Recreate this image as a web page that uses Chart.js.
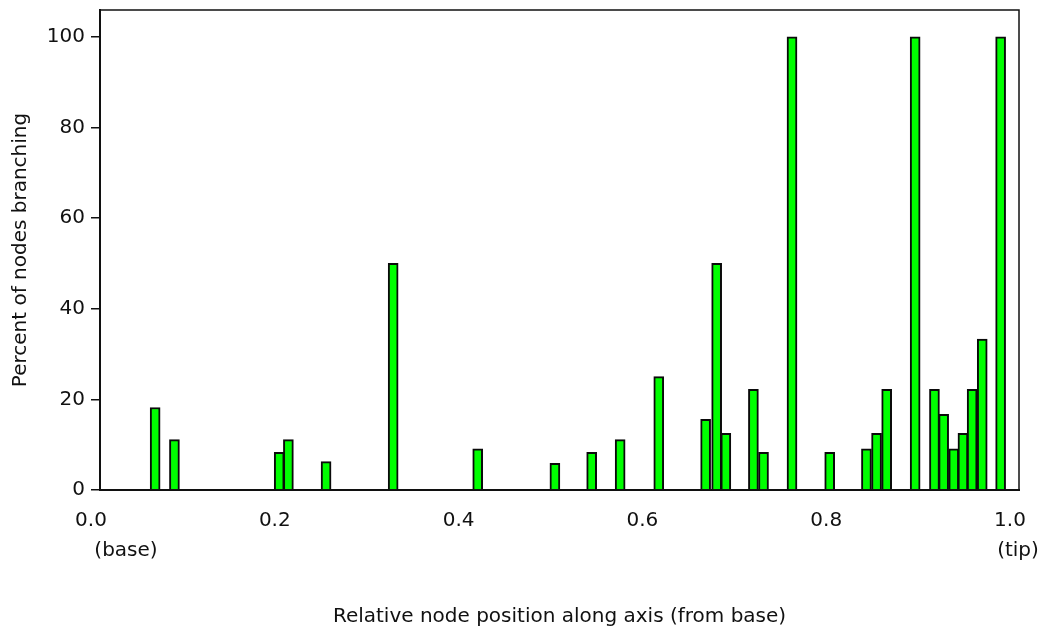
<!DOCTYPE html>
<html>
<head>
<meta charset="utf-8">
<title>Percent of nodes branching</title>
<script src="https://cdn.jsdelivr.net/npm/chart.js@4.4.1/dist/chart.umd.min.js"></script>
<style>
  html, body { margin: 0; padding: 0; background: #fff; }
</style>
</head>
<body>
<canvas id="branchChart" width="1043" height="634"></canvas>
<script>
/* ===== Data ===== */
const positions = [
  0.060, 0.081, 0.195, 0.205, 0.246, 0.319, 0.411, 0.495, 0.535, 0.566,
  0.608, 0.659, 0.671, 0.681, 0.711, 0.722, 0.753, 0.794, 0.834, 0.845,
  0.856, 0.887, 0.908, 0.918, 0.929, 0.939, 0.949, 0.960, 0.980
];
const percents = [
  18.2, 11.1, 8.3, 11.1, 6.25, 50, 9.1, 5.9, 8.3, 11.1,
  25, 15.6, 50, 12.5, 22.2, 8.3, 100, 8.3, 9.1, 12.5,
  22.2, 100, 22.2, 16.7, 9.1, 12.5, 22.2, 33.3, 100
];
const yTicks = [0, 20, 40, 60, 80, 100];
const endLabels = ["(base)", "(tip)"];

const FONT = "'DejaVu Sans', Verdana, sans-serif";
const INK = "#111";

/* ===== Plugins ===== */
// box round the plot area (top and right edges too)
const frame = {
  id: "frame",
  afterDatasetsDraw(chart) {
    const { ctx, chartArea: a } = chart;
    ctx.save();
    ctx.strokeStyle = INK;
    ctx.lineWidth = 1.5;
    ctx.strokeRect(a.left, a.top, a.right - a.left, a.bottom - a.top);
    ctx.restore();
  }
};

// "(base)" and "(tip)" under the end ticks
const ends = {
  id: "ends",
  afterDraw(chart) {
    const { ctx } = chart;
    const x = chart.scales.x;
    ctx.save();
    ctx.font = "20px " + FONT;
    ctx.fillStyle = INK;
    ctx.textAlign = "center";
    ctx.textBaseline = "middle";
    ctx.fillText(endLabels[0], x.getPixelForValue(0) + 26, x.top + 61);
    ctx.fillText(endLabels[1], x.getPixelForValue(1) - 1, x.top + 61);
    ctx.restore();
  }
};

/* ===== Chart ===== */
const ctx = document.getElementById("branchChart").getContext("2d");
new Chart(ctx, {
  type: "bar",
  data: {
    datasets: [{
      label: "Percent of nodes branching",
      data: positions.map((p, i) => ({ x: p, y: percents[i] })),
      backgroundColor: "#00ff00",
      borderColor: "#0a0a0a",
      borderWidth: 2,
      barThickness: 10
    }]
  },
  options: {
    responsive: false,
    animation: false,
    layout: { padding: { top: 10, right: 24, left: 0, bottom: 0 } },
    plugins: {
      legend: { display: false },
      tooltip: { enabled: false }
    },
    scales: {
      x: {
        type: "linear",
        min: 0,
        max: 1,
        offset: false,
        afterFit: s => { s.height = 144; s.paddingLeft = 0; s.paddingRight = 0; },
        grid: { display: false, offset: false },
        border: { display: true, color: INK, width: 2 },
        ticks: {
          stepSize: 0.2,
          labelOffset: -9,
          padding: 11,
          color: INK,
          font: { family: FONT, size: 20 },
          maxRotation: 0,
          callback: v => Number(v).toFixed(1)
        },
        title: {
          display: true,
          text: "Relative node position along axis (from base)",
          color: INK,
          font: { family: FONT, size: 20 },
          padding: { top: 0, bottom: 5 }
        }
      },
      y: {
        min: 0,
        max: 105.9,
        afterFit: s => { s.width = 100; s.paddingTop = 0; s.paddingBottom = 0; },
        afterBuildTicks: s => { s.ticks = yTicks.map(v => ({ value: v })); },
        grid: {
          display: true,
          drawOnChartArea: false,
          drawTicks: true,
          tickLength: 9,
          color: INK,
          lineWidth: 1.5
        },
        border: { display: true, color: INK, width: 2 },
        ticks: {
          padding: 6,
          color: INK,
          font: { family: FONT, size: 20 }
        },
        title: {
          display: true,
          text: "Percent of nodes branching",
          color: INK,
          font: { family: FONT, size: 20 },
          padding: { top: 9, bottom: 0 }
        }
      }
    }
  },
  plugins: [frame, ends]
});
</script>
</body>
</html>
